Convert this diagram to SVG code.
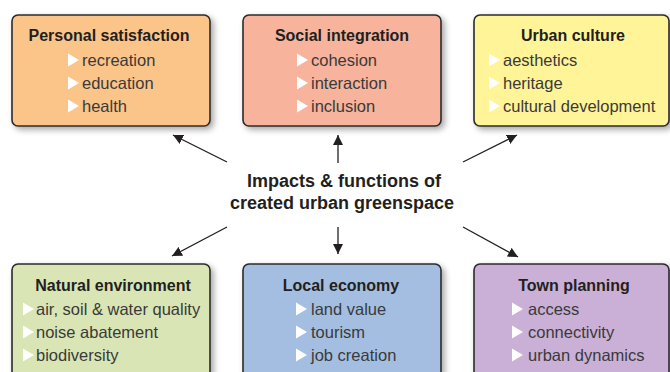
<svg xmlns="http://www.w3.org/2000/svg" width="670" height="372" viewBox="0 0 670 372">
  <defs>
    <filter id="shadow" x="-10%" y="-10%" width="125%" height="130%">
      <feGaussianBlur in="SourceAlpha" stdDeviation="3"/>
      <feOffset dx="3" dy="3" result="b"/>
      <feComponentTransfer><feFuncA type="linear" slope="0.35"/></feComponentTransfer>
      <feMerge><feMergeNode/><feMergeNode in="SourceGraphic"/></feMerge>
    </filter>
    <marker id="head" viewBox="0 0 10 10" refX="10" refY="5" markerWidth="10" markerHeight="10" markerUnits="userSpaceOnUse" orient="auto">
      <path d="M0,0 L10,5 L0,10 z" fill="#231f20"/>
    </marker>
    <path id="bullet" d="M0,-6.5 L11,0 L0,6.5 z"/>
  </defs>
  <style>
    .box { stroke: #2b2b2b; stroke-width: 1.6; filter: url(#shadow); }
    .title { font-family: "Liberation Sans", Arial, sans-serif; font-weight: bold; font-size: 16px; fill: #231f20; text-anchor: middle; }
    .item { font-family: "Liberation Sans", Arial, sans-serif; font-size: 16.5px; fill: #3a3a3a; }
    .center { font-family: "Liberation Sans", Arial, sans-serif; font-weight: bold; font-size: 18px; fill: #231f20; text-anchor: middle; }
    .tri { fill: #ffffff; }
    .link { stroke: #231f20; stroke-width: 1.3; fill: none; marker-end: url(#head); }
  </style>
  <rect width="670" height="372" fill="#ffffff"/>

  <g id="personal-satisfaction">
    <rect class="box" x="12" y="15" width="198" height="111" rx="6" fill="#fbc58a"/>
    <text class="title" x="109" y="41">Personal satisfaction</text>
    <use href="#bullet" class="tri" x="68" y="60"/>
    <text class="item" x="82" y="66">recreation</text>
    <use href="#bullet" class="tri" x="68" y="83"/>
    <text class="item" x="82" y="89">education</text>
    <use href="#bullet" class="tri" x="68" y="106"/>
    <text class="item" x="82" y="112">health</text>
  </g>

  <g id="social-integration">
    <rect class="box" x="243" y="15" width="198" height="111" rx="6" fill="#f7b39b"/>
    <text class="title" x="342" y="41">Social integration</text>
    <use href="#bullet" class="tri" x="297" y="60"/>
    <text class="item" x="311" y="66">cohesion</text>
    <use href="#bullet" class="tri" x="297" y="83"/>
    <text class="item" x="311" y="89">interaction</text>
    <use href="#bullet" class="tri" x="297" y="106"/>
    <text class="item" x="311" y="112">inclusion</text>
  </g>

  <g id="urban-culture">
    <rect class="box" x="474" y="15" width="195" height="111" rx="6" fill="#fff497"/>
    <text class="title" x="573" y="41">Urban culture</text>
    <use href="#bullet" class="tri" x="489" y="60"/>
    <text class="item" x="503" y="66">aesthetics</text>
    <use href="#bullet" class="tri" x="489" y="83"/>
    <text class="item" x="503" y="89">heritage</text>
    <use href="#bullet" class="tri" x="489" y="106"/>
    <text class="item" x="503" y="112">cultural development</text>
  </g>

  <g id="natural-environment">
    <rect class="box" x="12" y="264" width="198" height="120" rx="6" fill="#d9e5b4"/>
    <text class="title" x="113" y="291">Natural environment</text>
    <use href="#bullet" class="tri" x="23" y="309"/>
    <text class="item" x="36" y="315">air, soil &amp; water quality</text>
    <use href="#bullet" class="tri" x="23" y="332"/>
    <text class="item" x="36" y="338">noise abatement</text>
    <use href="#bullet" class="tri" x="23" y="355"/>
    <text class="item" x="36" y="361">biodiversity</text>
  </g>

  <g id="local-economy">
    <rect class="box" x="243" y="264" width="198" height="120" rx="6" fill="#a3bee1"/>
    <text class="title" x="341" y="291">Local economy</text>
    <use href="#bullet" class="tri" x="296" y="309"/>
    <text class="item" x="311" y="315">land value</text>
    <use href="#bullet" class="tri" x="296" y="332"/>
    <text class="item" x="311" y="338">tourism</text>
    <use href="#bullet" class="tri" x="296" y="355"/>
    <text class="item" x="311" y="361">job creation</text>
  </g>

  <g id="town-planning">
    <rect class="box" x="474" y="264" width="195" height="120" rx="6" fill="#cab0d6"/>
    <text class="title" x="574" y="291">Town planning</text>
    <use href="#bullet" class="tri" x="512" y="309"/>
    <text class="item" x="528" y="315">access</text>
    <use href="#bullet" class="tri" x="512" y="332"/>
    <text class="item" x="528" y="338">connectivity</text>
    <use href="#bullet" class="tri" x="512" y="355"/>
    <text class="item" x="528" y="361">urban dynamics</text>
  </g>

  <g id="hub">
    <text class="center" x="344" y="187">Impacts &amp; functions of</text>
    <text class="center" x="342" y="209">created urban greenspace</text>
  </g>

  <g id="connectors">
    <line class="link" x1="227" y1="162" x2="173" y2="135"/>
    <line class="link" x1="338" y1="163" x2="338" y2="135"/>
    <line class="link" x1="463" y1="162" x2="517" y2="135"/>
    <line class="link" x1="227" y1="227" x2="172" y2="256"/>
    <line class="link" x1="338" y1="227" x2="338" y2="254"/>
    <line class="link" x1="463" y1="227" x2="518" y2="257"/>
  </g>
</svg>
